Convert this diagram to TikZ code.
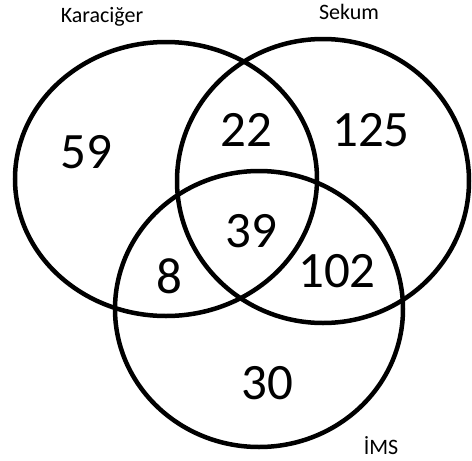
\documentclass[tikz,border=0pt]{standalone}
\usepackage{fontspec}
\setmainfont{Carlito}
\usepackage{tikz}
\usetikzlibrary{positioning}

\begin{document}
\begin{tikzpicture}[x=1pt, y=-1pt,
    setline/.style={draw=black, line width=4.5pt},
    setlabel/.style={font=\fontsize{22}{22}\selectfont, inner sep=0pt},
    count/.style={font=\fontsize{51}{51}\selectfont, inner sep=0pt},
]
\useasboundingbox (0,0) rectangle (472,461);

% the three sets
\coordinate (kc) at (166,179);
\coordinate (sc) at (323,181);
\coordinate (ic) at (259,309);
\draw[setline] (kc) ellipse [x radius=151, y radius=137];
\draw[setline] (sc) ellipse [x radius=146, y radius=142];
\draw[setline] (ic) ellipse [x radius=144, y radius=138];

\node[setlabel] (karaciger) at (102,17) {Karaciğer};
\node[setlabel] (sekum) at (349,12) {Sekum};
\node[setlabel] (ims) at (381,446) {İMS};

\node[count] (k) at (86,152) {59};
\node[count] (ks) at (246,130) {22};
\node[count] (s) at (371,130) {125};
\node[count] (ksi) at (251,231) {39};
\node[count] (ki) at (169,276) {8};
\node[count] (si) at (337,271) {102};
\node[count] (i) at (267,383) {30};

\end{tikzpicture}
\end{document}
